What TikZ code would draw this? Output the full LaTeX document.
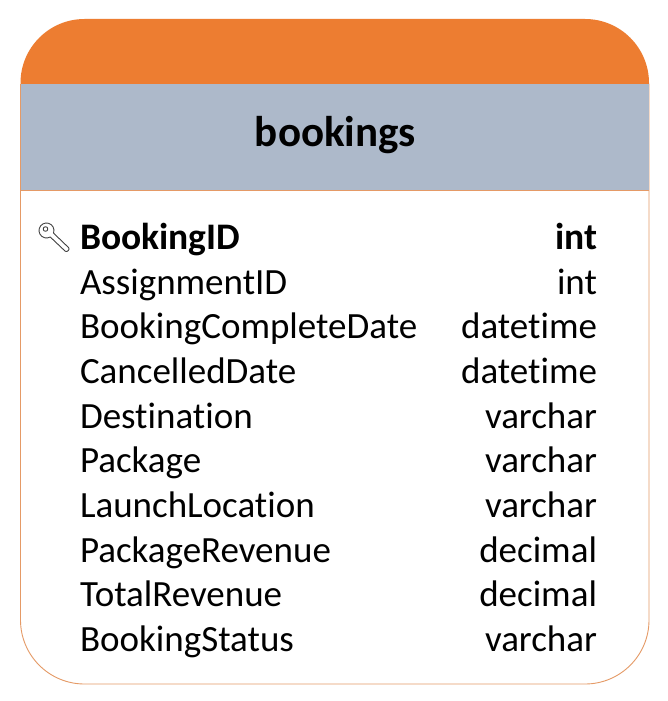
\documentclass[tikz,border=0pt]{standalone}
\usepackage{fontspec}
\setmainfont[Ligatures=NoCommon]{Carlito}
\definecolor{headO}{HTML}{ED7D31}
\definecolor{headB}{HTML}{ADB9CA}
\definecolor{edgeO}{HTML}{E59A66}
\tikzset{
 every node/.style={inner sep=0pt,outer sep=0pt},
 fieldname/.style={anchor=base west,font=\fontsize{37}{37}\selectfont},
 fieldtype/.style={anchor=base east,font=\fontsize{37}{37}\selectfont},
 fieldkey/.style={font=\fontsize{37.5}{37.5}\bfseries\selectfont},
 keyline/.style={draw=black!75,line width=0.9pt,fill=white,line join=round}
}
\begin{document}
\begin{tikzpicture}[x=1pt,y=1pt]
\useasboundingbox (0,0) rectangle (667,-701);
\fill[white] (0,0) rectangle (667,-701);
% outline of the lower part
\draw[edgeO,line width=0.9pt] (20.5,-84) -- (20.5,-620) arc[start angle=180,end angle=270,radius=64] -- (585,-684) arc[start angle=270,end angle=360,radius=64] -- (649,-84);
% orange cap
\fill[headO] (20.5,-84) -- (20.5,-83) arc[start angle=180,end angle=90,radius=64] -- (585,-19) arc[start angle=90,end angle=0,radius=64] -- (649,-84) -- cycle;
% blue band
\fill[headB] (20.5,-84) rectangle (648.5,-190);
\draw[edgeO,line width=0.9pt] (20.5,-190.5) -- (649,-190.5);
\node[font=\fontsize{43}{43}\bfseries\selectfont,anchor=base] (title) at (335.5,-146) {bookings};
% key icon
\draw[keyline] (53.5,-233.1) -- (68.7,-247.7) .. controls (70.2,-249.5) and (67,-252.7) .. (65.2,-251.2) -- (50.25,-237) arc[start angle=-60,end angle=-380,radius=7.5] -- cycle;
\draw[keyline] (45.5,-229) circle[radius=2.3];
% rows
\node[fieldname,fieldkey] (n1) at (80,-249) {BookingID};
\node[fieldtype,fieldkey] (t1) at (597,-249) {int};
\node[fieldname] (n2) at (80,-294) {AssignmentID};
\node[fieldtype] (t2) at (597,-294) {int};
\node[fieldname] (n3) at (80,-338.5) {BookingCompleteDate};
\node[fieldtype] (t3) at (597,-338.5) {datetime};
\node[fieldname] (n4) at (80,-383) {CancelledDate};
\node[fieldtype] (t4) at (597,-383) {datetime};
\node[fieldname] (n5) at (80,-428) {Destination};
\node[fieldtype] (t5) at (597,-428) {varchar};
\node[fieldname] (n6) at (80,-472.5) {Package};
\node[fieldtype] (t6) at (597,-472.5) {varchar};
\node[fieldname] (n7) at (80,-517.5) {LaunchLocation};
\node[fieldtype] (t7) at (597,-517.5) {varchar};
\node[fieldname] (n8) at (80,-562) {PackageRevenue};
\node[fieldtype] (t8) at (597,-562) {decimal};
\node[fieldname] (n9) at (80,-606.5) {TotalRevenue};
\node[fieldtype] (t9) at (597,-606.5) {decimal};
\node[fieldname] (n10) at (80,-651) {BookingStatus};
\node[fieldtype] (t10) at (597,-651) {varchar};
\end{tikzpicture}
\end{document}
